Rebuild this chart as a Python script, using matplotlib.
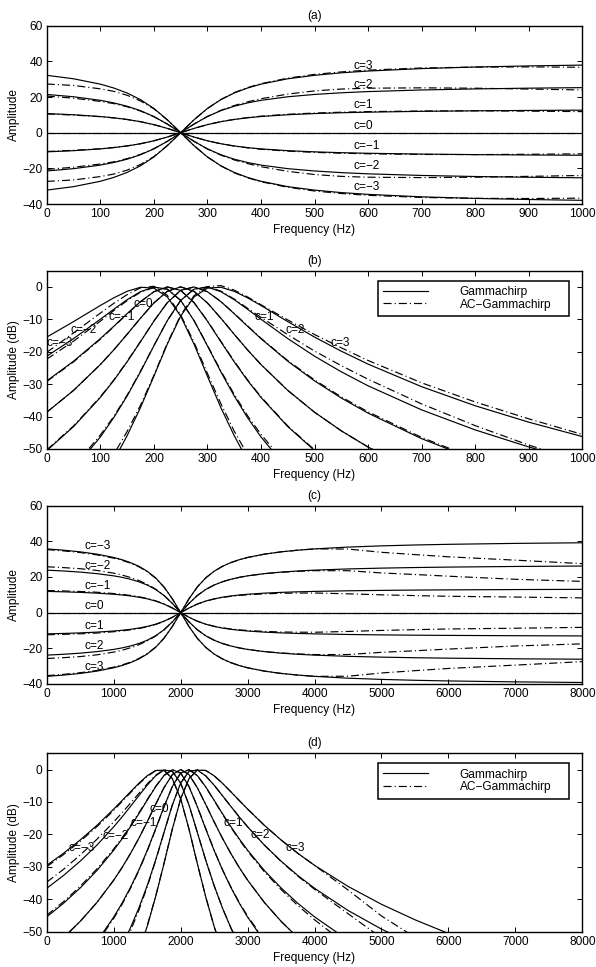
import numpy as np
import matplotlib

matplotlib.use("Agg")
import matplotlib.pyplot as plt
from matplotlib.lines import Line2D

nan = np.nan

# ---- panels (a) and (b): fr = 250 Hz ----
freq_ab = [0, 50, 100, 125, 150, 175, 200, 225, 250, 275, 300, 325, 350, 375,
           400, 450, 500, 550, 600, 700, 800, 900, 1000]

# (a) asymmetric function, gammachirp (solid)
a_gc_p3 = [-32.19, -30.24, -27.24, -25.08, -22.27, -18.54, -13.60, -7.28, 0, 7.28, 13.60, 18.54,
           22.27, 25.08, 27.24, 30.24, 32.19, 33.59, 34.58, 35.96, 36.84, 37.46, 37.92]
a_gc_p2 = [-21.46, -20.16, -18.16, -16.72, -14.85, -12.36, -9.06, -4.86, 0, 4.86, 9.06, 12.36,
           14.85, 16.72, 18.16, 20.16, 21.46, 22.39, 23.06, 23.97, 24.56, 24.98, 25.28]
a_gc_p1 = [-10.73, -10.08, -9.08, -8.36, -7.42, -6.18, -4.53, -2.43, 0, 2.43, 4.53, 6.18,
           7.42, 8.36, 9.08, 10.08, 10.73, 11.20, 11.53, 11.99, 12.28, 12.49, 12.64]
a_gc_0 = [0, 0, 0, 0, 0, 0, 0, 0, 0, 0, 0, 0, 0, 0, 0, 0, 0, 0, 0, 0, 0, 0, 0]
a_gc_m1 = [10.73, 10.08, 9.08, 8.36, 7.42, 6.18, 4.53, 2.43, 0, -2.43, -4.53, -6.18,
           -7.42, -8.36, -9.08, -10.08, -10.73, -11.20, -11.53, -11.99, -12.28, -12.49, -12.64]
a_gc_m2 = [21.46, 20.16, 18.16, 16.72, 14.85, 12.36, 9.06, 4.86, 0, -4.86, -9.06, -12.36,
           -14.85, -16.72, -18.16, -20.16, -21.46, -22.39, -23.06, -23.97, -24.56, -24.98, -25.28]
a_gc_m3 = [32.19, 30.24, 27.24, 25.08, 22.27, 18.54, 13.60, 7.28, 0, -7.28, -13.60, -18.54,
           -22.27, -25.08, -27.24, -30.24, -32.19, -33.59, -34.58, -35.96, -36.84, -37.46, -37.92]

# (a) AC-gammachirp (dash-dot)
a_ac_p3 = [-27.3, -26.5, -24.6, -23.2, -21.0, -17.8, -13.4, -7.2, 0, 7.28, 13.6, 18.6,
           22.5, 25.3, 27.5, 30.6, 32.7, 34.1, 35.1, 36.3, 36.8, 36.9, 36.7]
a_ac_p2 = [-20.56, -19.36, -17.56, -16.32, -14.55, -12.16, -8.96, -4.86, 0, 4.86, 9.16, 12.56,
           15.25, 17.32, 19.06, 21.66, 23.46, 24.49, 24.96, 25.17, 24.96, 24.48, 23.98]
a_ac_p1 = [-10.53, -9.88, -8.98, -8.30, -7.40, -6.18, -4.53, -2.43, 0, 2.43, 4.55, 6.20,
           7.50, 8.50, 9.28, 10.35, 11.03, 11.50, 11.83, 12.19, 12.28, 12.09, 11.84]
a_ac_m1 = [10.53, 9.88, 8.98, 8.30, 7.40, 6.18, 4.53, 2.43, 0, -2.43, -4.55, -6.20,
           -7.50, -8.50, -9.28, -10.35, -11.03, -11.50, -11.83, -12.19, -12.28, -12.09, -11.84]
a_ac_m2 = [20.56, 19.36, 17.56, 16.32, 14.55, 12.16, 8.96, 4.86, 0, -4.86, -9.16, -12.56,
           -15.25, -17.32, -19.06, -21.66, -23.46, -24.49, -24.96, -25.17, -24.96, -24.48, -23.98]
a_ac_m3 = [27.3, 26.5, 24.6, 23.2, 21.0, 17.8, 13.4, 7.2, 0, -7.28, -13.6, -18.6,
           -22.5, -25.3, -27.5, -30.6, -32.7, -34.1, -35.1, -36.3, -36.8, -36.9, -36.7]

# (b) filter responses in dB
b_gc_p3 = [-79.9, -71.2, -60.2, -53.56, -45.9, -37.21, -27.57, -17.68, -9.02, -3.11, -0.38, -0.12,
           -1.37, -3.39, -5.74, -10.71, -15.49, -19.84, -23.83, -30.79, -36.67, -41.73, -46.17]
b_gc_p2 = [-64.3, -56.27, -46.3, -40.36, -33.65, -26.19, -18.20, -10.41, -4.18, -0.70, -0.07, -1.47,
           -3.95, -6.92, -9.98, -15.95, -21.38, -26.20, -30.52, -37.94, -44.12, -49.38, -53.98]
b_gc_p1 = [-50.47, -43.09, -34.11, -28.90, -23.12, -16.91, -10.57, -4.88, -1.08, -0.02, -1.50, -4.54,
           -8.27, -12.17, -15.96, -22.93, -29.00, -34.29, -38.95, -46.82, -53.29, -58.77, -63.51]
b_gc_0 = [-38.66, -31.93, -23.96, -19.46, -14.62, -9.65, -4.96, -1.38, 0, -1.38, -4.96, -9.65,
          -14.62, -19.46, -23.96, -31.93, -38.66, -44.41, -49.40, -57.73, -64.50, -70.18, -75.08]
b_gc_m1 = [-29.00, -22.93, -15.96, -12.17, -8.27, -4.54, -1.50, -0.02, -1.08, -4.88, -10.57, -16.91,
           -23.12, -28.90, -34.11, -43.09, -50.47, -56.68, -62.0, -70.79, -77.86, -83.74, -88.8]
b_gc_m2 = [-21.38, -15.95, -9.98, -6.92, -3.95, -1.47, -0.07, -0.70, -4.18, -10.41, -18.20, -26.19,
           -33.65, -40.36, -46.30, -56.27, -64.3] + [nan] * 6
b_gc_m3 = [-15.49, -10.71, -5.74, -3.39, -1.37, -0.12, -0.38, -3.11, -9.02, -17.68, -27.57, -37.21,
           -45.90, -53.56, -60.2] + [nan] * 8

b_ac_p3 = [-75.0, -67.5, -57.6, -51.7, -44.6, -36.5, -27.3, -17.4, -8.7, -2.7, 0.1, 0.4,
           -1.0, -3.1, -5.5, -10.2, -14.7, -18.8, -22.7, -29.6, -35.5, -40.7, -45.5]
b_ac_p2 = [-63.4, -55.5, -45.7, -40.0, -33.4, -26.0, -18.1, -10.4, -4.2, -0.7, 0.0, -1.3,
           -3.75, -6.6, -9.4, -14.75, -19.8, -24.3, -28.5, -36.1, -42.8, -48.8, -54.0]
b_ac_p1 = [-50.27, -42.89, -33.91, -28.75, -23.0, -16.85, -10.55, -4.88, -1.08, -0.02, -1.5, -4.5,
           -8.2, -12.05, -15.86, -22.73, -28.7, -33.94, -38.55, -46.42, -52.99, -58.6, -63.3]
b_ac_m1 = [-29.2, -23.13, -16.16, -12.3, -8.37, -4.6, -1.5, -0.02, -1.08, -4.85, -10.47, -16.76,
           -22.92, -28.7, -33.9, -42.9, -50.27, -56.5] + [nan] * 5
b_ac_m2 = [-22.28, -16.75, -10.58, -7.32, -4.25, -1.67, -0.17, -0.7, -4.18, -10.41, -18.0, -25.89,
           -33.15, -39.76, -45.5, -55.27, -63.3] + [nan] * 6
b_ac_m3 = [-20.2, -14.2, -8.1, -5.1, -2.4, -0.3, 0.2, -2.6, -8.6, -17.1, -26.7, -36.0,
           -44.5, -51.8, -57.8] + [nan] * 8

# ---- panels (c) and (d): fr = 2000 Hz ----
freq_cd = [0, 250, 500, 750, 1000, 1125, 1250, 1375, 1500, 1625, 1750, 1875, 2000, 2125, 2250,
           2375, 2500, 2625, 2750, 2875, 3000, 3250, 3500, 3750, 4000, 4500, 5000, 5500, 6000,
           7000, 8000]

c_gc_p3 = [-35.74, -35.02, -34.09, -32.79, -30.94, -29.67, -28.06, -25.98, -23.22, -19.50, -14.45,
           -7.81, 0, 7.81, 14.45, 19.50, 23.22, 25.98, 28.06, 29.67, 30.94, 32.79, 34.09, 35.02,
           35.74, 36.76, 37.44, 37.94, 38.31, 38.83, 39.18]
c_gc_p2 = [-23.83, -23.35, -22.73, -21.86, -20.63, -19.78, -18.71, -17.32, -15.48, -13.00, -9.63,
           -5.21, 0, 5.21, 9.63, 13.00, 15.48, 17.32, 18.71, 19.78, 20.63, 21.86, 22.73, 23.35,
           23.83, 24.51, 24.96, 25.29, 25.54, 25.89, 26.12]
c_gc_p1 = [-11.91, -11.67, -11.36, -10.93, -10.31, -9.89, -9.35, -8.66, -7.74, -6.50, -4.82,
           -2.60, 0, 2.60, 4.82, 6.50, 7.74, 8.66, 9.35, 9.89, 10.31, 10.93, 11.36, 11.67,
           11.91, 12.25, 12.48, 12.65, 12.77, 12.94, 13.06]
c_gc_0 = [0, 0, 0, 0, 0, 0, 0, 0, 0, 0, 0, 0, 0, 0, 0, 0, 0, 0, 0, 0, 0, 0, 0, 0, 0, 0, 0, 0,
          0, 0, 0]
c_gc_m1 = [11.91, 11.67, 11.36, 10.93, 10.31, 9.89, 9.35, 8.66, 7.74, 6.50, 4.82,
           2.60, 0, -2.60, -4.82, -6.50, -7.74, -8.66, -9.35, -9.89, -10.31, -10.93, -11.36, -11.67,
           -11.91, -12.25, -12.48, -12.65, -12.77, -12.94, -13.06]
c_gc_m2 = [23.83, 23.35, 22.73, 21.86, 20.63, 19.78, 18.71, 17.32, 15.48, 13.00, 9.63,
           5.21, 0, -5.21, -9.63, -13.00, -15.48, -17.32, -18.71, -19.78, -20.63, -21.86, -22.73,
           -23.35, -23.83, -24.51, -24.96, -25.29, -25.54, -25.89, -26.12]
c_gc_m3 = [35.74, 35.02, 34.09, 32.79, 30.94, 29.67, 28.06, 25.98, 23.22, 19.50, 14.45,
           7.81, 0, -7.81, -14.45, -19.50, -23.22, -25.98, -28.06, -29.67, -30.94, -32.79, -34.09,
           -35.02, -35.74, -36.76, -37.44, -37.94, -38.31, -38.83, -39.18]

c_ac_p3 = [-35.34, -34.62, -33.69, -32.39, -30.54, -29.32, -27.76, -25.73, -23.02, -19.35, -14.35,
           -7.76, 0, 7.81, 14.45, 19.50, 23.22, 25.98, 28.06, 29.67, 30.94, 32.79, 34.09, 35.02,
           35.74, 35.66, 33.84, 32.54, 31.31, 29.43, 27.48]
c_ac_p2 = [-25.73, -25.25, -24.63, -23.66, -22.13, -21.08, -19.71, -18.02, -15.88, -13.20, -9.73,
           -5.21, 0, 5.21, 9.63, 13.00, 15.48, 17.32, 18.71, 19.78, 20.63, 21.86, 22.63, 23.15,
           23.53, 23.51, 22.26, 21.39, 20.44, 18.69, 17.52]
c_ac_p1 = [-12.41, -12.17, -11.86, -11.43, -10.71, -10.24, -9.65, -8.91, -7.94, -6.65, -4.92,
           -2.65, 0, 2.60, 4.82, 6.45, 7.64, 8.51, 9.15, 9.64, 10.01, 10.53, 10.86, 10.97,
           11.01, 10.55, 9.98, 9.55, 9.17, 8.74, 8.26]
c_ac_m1 = [12.41, 12.17, 11.86, 11.43, 10.71, 10.24, 9.65, 8.91, 7.94, 6.65, 4.92,
           2.65, 0, -2.60, -4.82, -6.45, -7.64, -8.51, -9.15, -9.64, -10.01, -10.53, -10.86, -10.97,
           -11.01, -10.55, -9.98, -9.55, -9.17, -8.74, -8.26]
c_ac_m2 = [25.73, 25.25, 24.63, 23.66, 22.13, 21.08, 19.71, 18.02, 15.88, 13.20, 9.73,
           5.21, 0, -5.21, -9.63, -13.00, -15.48, -17.32, -18.71, -19.78, -20.63, -21.86, -22.63,
           -23.15, -23.53, -23.51, -22.26, -21.39, -20.44, -18.69, -17.52]
c_ac_m3 = [35.34, 34.62, 33.69, 32.39, 30.54, 29.32, 27.76, 25.73, 23.02, 19.35, 14.35,
           7.76, 0, -7.81, -14.45, -19.50, -23.22, -25.98, -28.06, -29.67, -30.94, -32.79, -34.09,
           -35.02, -35.74, -35.66, -33.84, -32.54, -31.31, -29.43, -27.48]

d_gc_p3 = [nan, nan, nan, nan, -74.07, -68.90, -62.99, -56.22, -48.38, -39.31, -29.10, -18.41,
           -9.02, -2.79, -0.20, -0.30, -1.93, -4.26, -6.87, -9.55, -12.19, -17.20, -21.72, -25.83,
           -29.54, -36.03, -41.55, -46.32, -50.54, -57.71, -63.66]
d_gc_p2 = [-84.27, -79.37, -73.70, -67.01, -58.92, -54.17, -48.80, -42.72, -35.80, -27.97, -19.45,
           -10.97, -4.18, -0.56, -0.18, -1.97, -4.84, -8.08, -11.38, -14.61, -17.66, -23.29, -28.24,
           -32.67, -36.61, -43.44, -49.20, -54.13, -58.47, -65.81, -71.88]
d_gc_p1 = [-69.25, -64.59, -59.23, -52.98, -45.50, -41.18, -36.34, -30.96, -24.96, -18.37, -11.53,
           -5.26, -1.08, -0.06, -1.90, -5.37, -9.47, -13.64, -17.63, -21.39, -24.87, -31.12, -36.50,
           -41.24, -45.42, -52.59] + [nan] * 5
d_gc_0 = [-56.26, -51.84, -46.79, -40.97, -34.11, -30.21, -25.91, -21.22, -16.14, -10.79, -5.64,
          -1.58, 0, -1.58, -5.64, -10.79, -16.14, -21.22, -25.91, -30.21, -34.11, -40.97, -46.79,
          -51.84, -56.26, -63.77] + [nan] * 5
d_gc_m1 = [-45.42, -41.24, -36.50, -31.12, -24.87, -21.39, -17.63, -13.64, -9.47, -5.37, -1.90,
           -0.06, -1.08, -5.26, -11.53, -18.37, -24.96, -30.96, -36.34, -41.18, -45.50,
           -52.98] + [nan] * 9
d_gc_m2 = [-36.61, -32.67, -28.24, -23.29, -17.66, -14.61, -11.38, -8.08, -4.84, -1.97, -0.18,
           -0.56, -4.18, -10.97, -19.45, -27.97, -35.80, -42.72, -48.80, -54.17] + [nan] * 11
d_gc_m3 = [-29.54, -25.83, -21.72, -17.20, -12.19, -9.55, -6.87, -4.26, -1.93, -0.30, -0.20,
           -2.79, -9.02, -18.41, -29.10, -39.31, -48.38, -56.22] + [nan] * 13

d_ac_p3 = [nan, nan, nan, nan, -73.67, -68.50, -62.69, -55.97, -48.18, -39.16, -29.00, -18.36,
           -9.02, -2.79, -0.20, -0.30, -1.93, -4.26, -6.87, -9.55, -12.19, -17.20, -21.72, -25.83,
           -29.54, -37.13, -45.15, -51.72, -57.54, nan, nan]
d_ac_p2 = [-86.17, -81.27, -75.60, -68.81, -60.42, -55.47, -49.80, -43.42, -36.20, -28.17, -19.55,
           -10.97, -4.18, -0.56, -0.18, -1.97, -4.84, -8.08, -11.38, -14.61, -17.66, -23.29, -28.34,
           -32.87, -36.91, -44.44, -51.90, -58.03, -63.57, nan, nan]
d_ac_p1 = [-69.75, -65.09, -59.73, -53.48, -45.90, -41.55, -36.66, -31.24, -25.16, -18.52, -11.63,
           -5.26, -1.08, -0.06, -1.90, -5.42, -9.57, -13.79, -17.83, -21.64, -25.17, -31.52, -37.00,
           -41.94, -46.32, -54.29] + [nan] * 5
d_ac_m1 = [-44.92, -40.74, -36.00, -30.62, -24.47, -21.04, -17.33, -13.39, -9.27, -5.22, -1.80,
           -0.06, -1.08, -5.26, -11.43, -18.22, -24.86, -30.86, -36.19, -40.98, -45.20,
           -52.48] + [nan] * 9
d_ac_m2 = [-34.71, -30.77, -26.34, -21.49, -16.16, -13.31, -10.38, -7.38, -4.44, -1.77, -0.08,
           -0.56, -4.18, -10.97, -19.45, -27.97, -35.80, -42.72, -48.80, -54.17] + [nan] * 11
d_ac_m3 = [-29.94, -26.23, -22.12, -17.60, -12.59, -9.85, -7.17, -4.46, -2.13, -0.40, -0.25,
           -2.79, -9.02, -18.41, -29.10, -39.31, -48.38, -56.22] + [nan] * 13

# curve labels: text, x, y
c_names = ["c=3", "c=2", "c=1", "c=0", "c=\u22121", "c=\u22122", "c=\u22123"]
a_label_x = [572, 572, 572, 572, 572, 572, 572]
a_label_y = [37.6, 26.6, 15.4, 3.8, -7.6, -18.8, -30.6]
c_names_c = ["c=\u22123", "c=\u22122", "c=\u22121", "c=0", "c=1", "c=2", "c=3"]
c_label_x = [570, 570, 570, 570, 570, 570, 570]
c_label_y = [37.6, 26.2, 15.2, 3.8, -7.6, -18.9, -30.4]
bd_names = ["c=\u22123", "c=\u22122", "c=\u22121", "c=0", "c=1", "c=2", "c=3"]
b_label_x = [0, 45, 115, 162, 387, 445, 529]
b_label_y = [-17.4, -13.2, -9.4, -5.3, -9.4, -13.2, -17.3]
d_label_x = [323, 834, 1249, 1533, 2640, 3049, 3570]
d_label_y = [-24.3, -20.4, -16.4, -12.3, -16.4, -20.2, -24.3]

plt.rcParams["font.family"] = ["Liberation Sans", "DejaVu Sans"]
plt.rcParams["font.size"] = 8.6
plt.rcParams["lines.scale_dashes"] = False
plt.rcParams["axes.linewidth"] = 1.0

LW = 0.85
DASHDOT = (0, (5.8, 2.2, 0.8, 2.2))
FS = 8.6

fig = plt.figure(figsize=(5.96, 9.67), dpi=100)

panels = [
    ("(a)", [0.0785, 0.7890, 0.8985, 0.1844], freq_ab,
     [a_gc_p3, a_gc_p2, a_gc_p1, a_gc_0, a_gc_m1, a_gc_m2, a_gc_m3],
     [a_ac_p3, a_ac_p2, a_ac_p1, a_gc_0, a_ac_m1, a_ac_m2, a_ac_m3],
     c_names, a_label_x, a_label_y, 1000, 100, (-40, 60), 20, "Amplitude", False),
    ("(b)", [0.0785, 0.5357, 0.8985, 0.1844], freq_ab,
     [b_gc_p3, b_gc_p2, b_gc_p1, b_gc_0, b_gc_m1, b_gc_m2, b_gc_m3],
     [b_ac_p3, b_ac_p2, b_ac_p1, b_gc_0, b_ac_m1, b_ac_m2, b_ac_m3],
     bd_names, b_label_x, b_label_y, 1000, 100, (-50, 5), 10, "Amplitude (dB)", True),
    ("(c)", [0.0785, 0.2927, 0.8985, 0.1844], freq_cd,
     [c_gc_p3, c_gc_p2, c_gc_p1, c_gc_0, c_gc_m1, c_gc_m2, c_gc_m3],
     [c_ac_p3, c_ac_p2, c_ac_p1, c_gc_0, c_ac_m1, c_ac_m2, c_ac_m3],
     c_names_c, c_label_x, c_label_y, 8000, 1000, (-40, 60), 20, "Amplitude", False),
    ("(d)", [0.0785, 0.0365, 0.8985, 0.1845], freq_cd,
     [d_gc_p3, d_gc_p2, d_gc_p1, d_gc_0, d_gc_m1, d_gc_m2, d_gc_m3],
     [d_ac_p3, d_ac_p2, d_ac_p1, d_gc_0, d_ac_m1, d_ac_m2, d_ac_m3],
     bd_names, d_label_x, d_label_y, 8000, 1000, (-50, 5), 10, "Amplitude (dB)", True),
]

for title, rect, freq, gc_curves, ac_curves, names, lx, ly, xmax, xstep, ylim, ystep, ylab, has_leg in panels:
    ax = fig.add_axes(rect)
    for y in gc_curves:
        ax.plot(freq, y, color="black", lw=LW, ls="-")
    for y in ac_curves:
        ax.plot(freq, y, color="black", lw=LW, ls=DASHDOT)
    for name, x, y in zip(names, lx, ly):
        ax.text(x, y, name, ha="left", va="center", fontsize=FS)

    ax.set_xlim(0, xmax)
    ax.set_ylim(*ylim)
    ax.set_xticks(np.arange(0, xmax + 1, xstep))
    ax.set_yticks(np.arange(ylim[0], min(ylim[1], 60) + 1, ystep))
    ax.tick_params(direction="in", top=True, right=True, length=3.6, width=0.7, pad=3)
    ax.set_title(title, fontsize=FS, pad=5)
    ax.set_xlabel("Frequency (Hz)", labelpad=3)
    ax.set_ylabel(ylab, labelpad=1.5)

    if has_leg:
        handles = [Line2D([], [], color="black", lw=LW, ls="-"),
                   Line2D([], [], color="black", lw=LW, ls=DASHDOT)]
        leg = ax.legend(handles, ["Gammachirp", "AC\u2212Gammachirp"], loc="upper left",
                        bbox_to_anchor=(0.618, 0.944, 0.357, 0), mode="expand",
                        borderaxespad=0, fancybox=False, framealpha=1, edgecolor="black",
                        handlelength=3.8, handletextpad=2.6, borderpad=0.45,
                        labelspacing=0.05, fontsize=FS)
        leg.get_frame().set_linewidth(1.1)

fig.savefig("out.png", dpi=100)
plt.close(fig)
